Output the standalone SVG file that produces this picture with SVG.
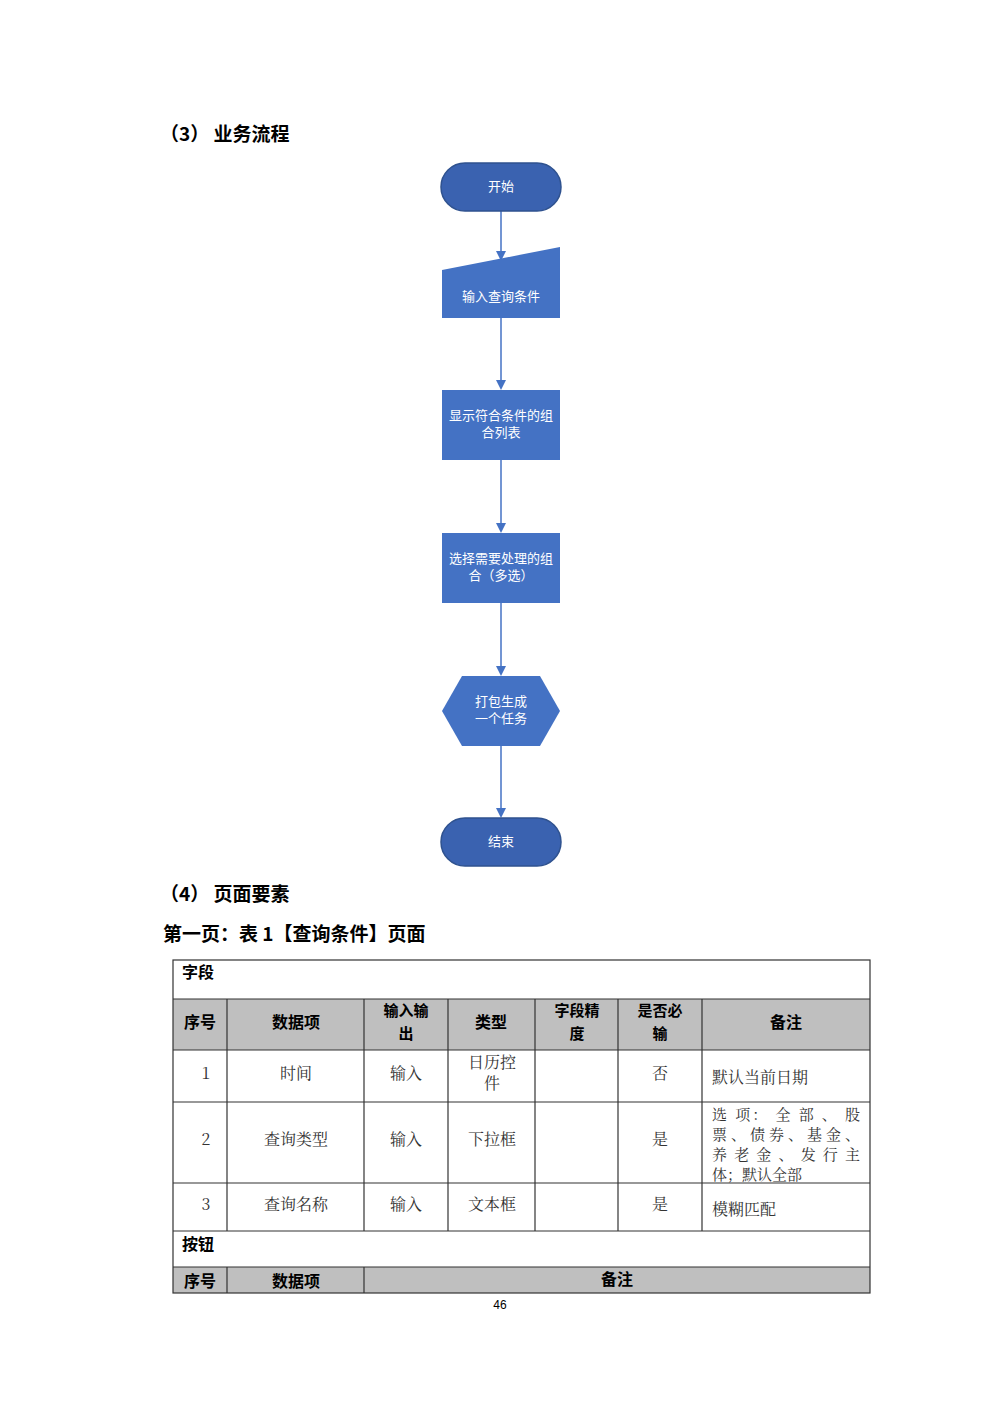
<svg xmlns="http://www.w3.org/2000/svg" width="1000" height="1415" viewBox="0 0 1000 1415">
<style>
.h{font-family:"Noto Sans CJK SC",sans-serif;font-weight:bold;font-size:19px;fill:#000}
.n{font-family:"Noto Sans CJK SC",sans-serif;font-size:13px;fill:#fff;text-anchor:middle}
.term{fill:#3a62b0;stroke:#2f528f;stroke-width:1.5}
.proc{fill:#4472c4}
.c{stroke:#4472c4;stroke-width:1.5;fill:none}
.tb{font-family:"Noto Sans CJK SC",sans-serif;font-weight:bold;font-size:16px;fill:#000;text-anchor:middle}
.tb2{font-family:"Noto Sans CJK SC",sans-serif;font-weight:bold;font-size:15px;fill:#000;text-anchor:middle}
.tbl{font-family:"Noto Sans CJK SC",sans-serif;font-weight:bold;font-size:16px;fill:#000}
.tt{font-family:"Noto Serif CJK SC","Noto Sans CJK SC",serif;font-size:16px;fill:#333;text-anchor:middle}
.tl{font-family:"Noto Serif CJK SC","Noto Sans CJK SC",serif;font-size:16px;fill:#333}
.ts{font-family:"Noto Serif CJK SC","Noto Sans CJK SC",serif;font-size:15px;fill:#333}
.ln{stroke:#333;stroke-width:1.2}
</style>
<defs><marker id="a" markerWidth="10" markerHeight="10" refX="8" refY="5" orient="auto" markerUnits="userSpaceOnUse"><path d="M0,0L10,5L0,10z" fill="#4472c4"/></marker></defs>
<rect width="1000" height="1415" fill="#fff"/>
<text class="h" x="160" y="141">（3）  业务流程</text>
<g id="connectors">
<line class="c" x1="501" y1="211" x2="501" y2="259" marker-end="url(#a)"/>
<line class="c" x1="501" y1="318" x2="501" y2="388" marker-end="url(#a)"/>
<line class="c" x1="501" y1="460" x2="501" y2="531" marker-end="url(#a)"/>
<line class="c" x1="501" y1="603" x2="501" y2="674" marker-end="url(#a)"/>
<line class="c" x1="501" y1="746" x2="501" y2="816" marker-end="url(#a)"/>
</g>
<g id="start"><rect class="term" x="441" y="163" width="120" height="48" rx="24"/><text class="n" x="501" y="191">开始</text></g>
<g id="input"><path class="proc" d="M442,270L560,247L560,318L442,318z"/><text class="n" x="501" y="301">输入查询条件</text></g>
<g id="show"><rect class="proc" x="442" y="390" width="118" height="70"/><text class="n" x="501" y="420">显示符合条件的组</text><text class="n" x="501" y="437">合列表</text></g>
<g id="select"><rect class="proc" x="442" y="533" width="118" height="70"/><text class="n" x="501" y="563">选择需要处理的组</text><text class="n" x="501" y="580">合（多选）</text></g>
<g id="pack"><path class="proc" d="M462,676L540,676L560,711L540,746L462,746L442,711z"/><text class="n" x="501" y="706">打包生成</text><text class="n" x="501" y="723">一个任务</text></g>
<g id="end"><rect class="term" x="441" y="818" width="120" height="48" rx="24"/><text class="n" x="501" y="846">结束</text></g>
<text class="h" x="160" y="901">（4）  页面要素</text>
<text class="h" x="163" y="941">第一页：表 1【查询条件】页面</text>
<g id="table">
<rect x="173" y="999" width="697" height="51" fill="#bfbfbf"/>
<rect x="173" y="1267" width="697" height="26" fill="#bfbfbf"/>
<rect x="173" y="960" width="697" height="333" fill="none" class="ln"/>
<g class="ln">
<line x1="173" y1="999" x2="870" y2="999"/><line x1="173" y1="1050" x2="870" y2="1050"/>
<line x1="173" y1="1102" x2="870" y2="1102"/><line x1="173" y1="1183" x2="870" y2="1183"/>
<line x1="173" y1="1231" x2="870" y2="1231"/><line x1="173" y1="1267" x2="870" y2="1267"/>
<line x1="227" y1="999" x2="227" y2="1231"/><line x1="364" y1="999" x2="364" y2="1231"/>
<line x1="448" y1="999" x2="448" y2="1231"/><line x1="535" y1="999" x2="535" y2="1231"/>
<line x1="618" y1="999" x2="618" y2="1231"/><line x1="702" y1="999" x2="702" y2="1231"/>
<line x1="227" y1="1267" x2="227" y2="1293"/><line x1="364" y1="1267" x2="364" y2="1293"/>
</g>
<text class="tbl" x="182" y="978">字段</text>
<text class="tb" x="200" y="1028">序号</text><text class="tb" x="296" y="1028">数据项</text>
<text class="tb2" x="406" y="1016">输入输</text><text class="tb2" x="406" y="1039">出</text>
<text class="tb" x="491" y="1028">类型</text>
<text class="tb2" x="577" y="1016">字段精</text><text class="tb2" x="577" y="1039">度</text>
<text class="tb2" x="660" y="1016">是否必</text><text class="tb2" x="660" y="1039">输</text>
<text class="tb" x="786" y="1028">备注</text>
<text class="tt" x="206" y="1079">1</text><text class="tt" x="296" y="1079">时间</text><text class="tt" x="406" y="1079">输入</text>
<text class="tt" x="492" y="1068">日历控</text><text class="tt" x="492" y="1089">件</text>
<text class="tt" x="660" y="1079">否</text><text class="tl" x="712" y="1083">默认当前日期</text>
<text class="tt" x="206" y="1145">2</text><text class="tt" x="296" y="1145">查询类型</text><text class="tt" x="406" y="1145">输入</text>
<text class="tt" x="492" y="1145">下拉框</text><text class="tt" x="660" y="1145">是</text>
<text class="ts" x="712" y="1120" textLength="148">选 项： 全 部 、 股</text>
<text class="ts" x="712" y="1140" textLength="148">票、债券、基金、</text>
<text class="ts" x="712" y="1160" textLength="148">养 老 金 、 发 行 主</text>
<text class="ts" x="712" y="1180">体；默认全部</text>
<text class="tt" x="206" y="1210">3</text><text class="tt" x="296" y="1210">查询名称</text><text class="tt" x="406" y="1210">输入</text>
<text class="tt" x="492" y="1210">文本框</text><text class="tt" x="660" y="1210">是</text><text class="tl" x="712" y="1215">模糊匹配</text>
<text class="tbl" x="182" y="1250">按钮</text>
<text class="tb" x="200" y="1287">序号</text><text class="tb" x="296" y="1287">数据项</text><text class="tb" x="617" y="1285">备注</text>
</g>
<text x="500" y="1309" font-family="Liberation Sans,sans-serif" font-size="12" text-anchor="middle">46</text>
</svg>
